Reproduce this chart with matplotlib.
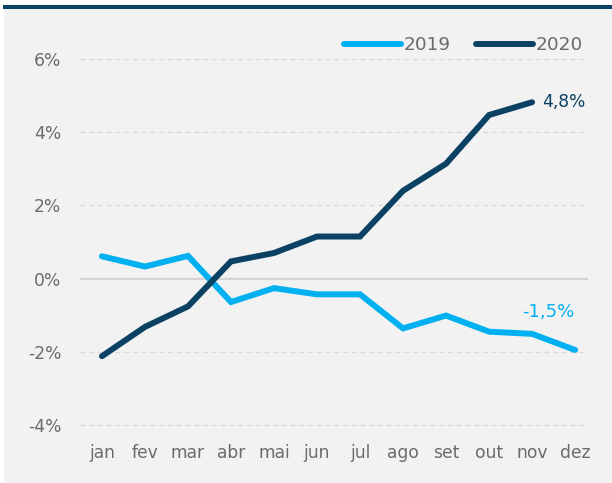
import matplotlib.pyplot as plt
from matplotlib.patches import Rectangle

months = ['jan', 'fev', 'mar', 'abr', 'mai', 'jun', 'jul', 'ago', 'set', 'out', 'nov', 'dez']
v2019 = [0.61, 0.33, 0.62, -0.64, -0.26, -0.43, -0.43, -1.36, -1.01, -1.45, -1.51, -1.95]
v2020 = [-2.12, -1.32, -0.76, 0.47, 0.70, 1.15, 1.15, 2.40, 3.14, 4.47, 4.82]
yticks = [-4, -2, 0, 2, 4, 6]

c19 = '#00b0f0'
c20 = '#0b4263'
grey = '#6b6b6b'

plt.rcParams['font.family'] = ['DejaVu Sans']

fig = plt.figure(figsize=(6.12, 4.83), dpi=100)
fig.patch.set_facecolor('white')
W, H = 612, 483
fig.patches.append(Rectangle((4 / W, 0), 1, 1 - 9 / H, transform=fig.transFigure,
                             facecolor='#f2f2f2', edgecolor='none', zorder=-2))
fig.patches.append(Rectangle((3 / W, 1 - 9 / H), 1, 4 / H, transform=fig.transFigure,
                             facecolor=c20, edgecolor='none', zorder=-2))

ax = fig.add_axes([80 / W, 1 - 440 / H, 508 / W, 400 / H])
ax.set_facecolor('none')

x = list(range(len(months)))
ax.plot(x, v2019, color=c19, lw=4.3, solid_capstyle='round', solid_joinstyle='miter', label='2019', zorder=3)
ax.plot(x[:len(v2020)], v2020, color=c20, lw=4.3, solid_capstyle='round', solid_joinstyle='miter', label='2020', zorder=4)

ax.set_xlim(-0.51, 11.3)
ax.set_ylim(-4.41, 6.52)
ax.set_yticks(yticks)
ax.set_yticklabels([f'{t}%' for t in yticks])
ax.set_xticks(x)
ax.set_xticklabels(months)
ax.tick_params(length=0, labelsize=12.3, colors=grey)
ax.tick_params(axis='y', pad=13.5)
ax.tick_params(axis='x', pad=3)

for t in yticks:
    if t == 0:
        ax.axhline(0, color='#d4d4d4', lw=1.6, zorder=1)
    else:
        ax.axhline(t, color='#dadada', lw=0.9, ls=(0, (4, 3)), zorder=1)

for s in ax.spines.values():
    s.set_visible(False)

ax.text(10.23, 4.82, '4,8%', color=c20, fontsize=12.3, ha='left', va='center')
ax.text(10.37, -0.9, '-1,5%', color=c19, fontsize=13, ha='center', va='center')

leg = ax.legend(loc='center right', bbox_to_anchor=(1.005, 0.9875), borderaxespad=0,
                ncol=2, frameon=False, fontsize=13.3, handlelength=3.1,
                handletextpad=0.15, columnspacing=1.35)
for t in leg.get_texts():
    t.set_color(grey)

fig.savefig('out.png', dpi=100)
